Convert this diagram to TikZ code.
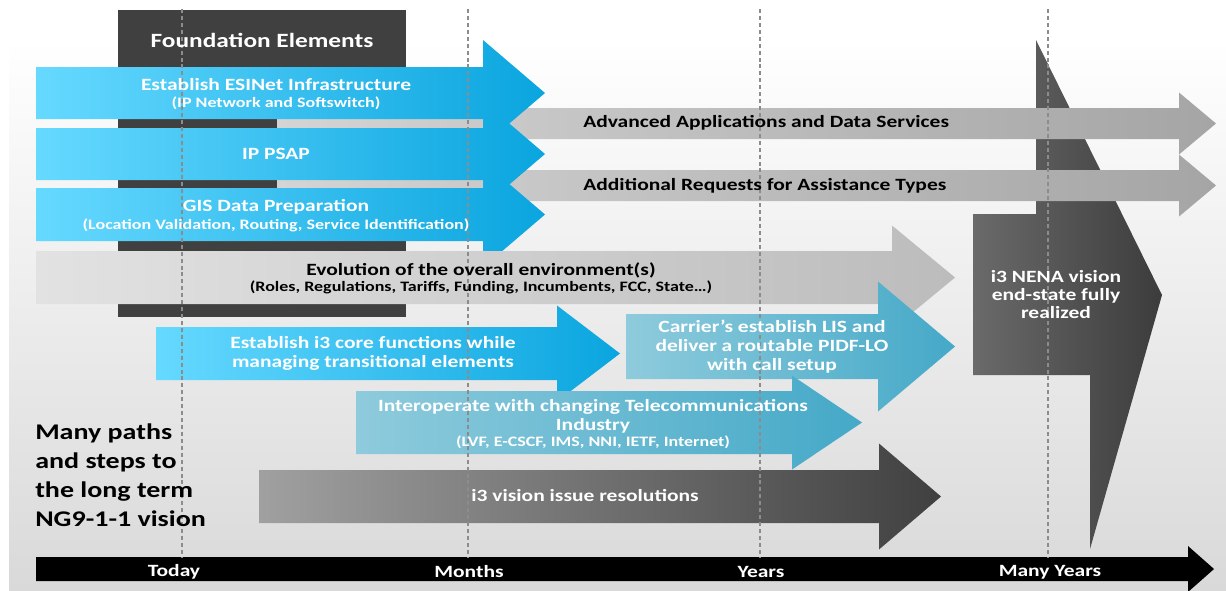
\documentclass[tikz,border=0pt]{standalone}
\usepackage{fontspec}
\setmainfont{Carlito}[FakeStretch=1.25]

\definecolor{bluel}{HTML}{66D9FF}
\definecolor{bluer}{HTML}{0AA5DF}
\definecolor{teall}{HTML}{8ECBDC}
\definecolor{tealr}{HTML}{45A9C8}
\definecolor{grayl}{HTML}{D4D4D4}
\definecolor{grayr}{HTML}{A5A5A5}
\definecolor{evol}{HTML}{E2E2E2}
\definecolor{evor}{HTML}{BCBCBC}
\definecolor{darkl}{HTML}{A0A0A0}
\definecolor{darkr}{HTML}{404040}
\definecolor{bigl}{HTML}{6A6A6A}
\definecolor{bigr}{HTML}{3C3C3C}
\definecolor{boxgray}{HTML}{404040}
\definecolor{bggray}{HTML}{D9D9D9}
\definecolor{tickgray}{HTML}{8C8C8C}

% block arrow: style, x left, y top, x head, y bottom, x tip, half head
\newcommand{\blockarrow}[7]{%
  \path[#1] (#2,#3) -- (#4,#3) -- (#4,{(#3+#5)/2-#7}) -- (#6,{(#3+#5)/2})
    -- (#4,{(#3+#5)/2+#7}) -- (#4,#5) -- (#2,#5) -- cycle;}

\begin{document}
\begin{tikzpicture}[x=0.75pt, y=-0.75pt,
    bluefill/.style = {left color=bluel, right color=bluer},
    tealfill/.style = {left color=teall, right color=tealr},
    grayfill/.style = {left color=grayl, right color=grayr},
    evofill/.style = {left color=evol, right color=evor},
    darkfill/.style = {left color=darkl, right color=darkr},
    whitetxt/.style = {text=white, align=center, inner sep=0pt, font=\bfseries\fontsize{12.9}{14.25}\selectfont},
    blacktxt/.style = {text=black, align=center, inner sep=0pt, font=\bfseries\fontsize{12.9}{14.25}\selectfont},
    subtxt/.style = {font=\bfseries\fontsize{10.8}{12}\selectfont},
    tick/.style = {draw=tickgray, line width=0.9pt, dash pattern=on 3pt off 2.2pt}]
\useasboundingbox (0,0) rectangle (1226,590);

% background and foundation box
\path[top color=white, bottom color=bggray] (9,38) rectangle (1226,590);
\fill[boxgray] (118,10) rectangle (406,317);

% end state
\path[left color=bigl, right color=bigr] (1036,40) -- (1162,295) -- (1090,549) -- (1090,375)
  -- (973,375) -- (973,214) -- (1036,214) -- cycle;

% arrows
\blockarrow{grayfill}{277}{108}{1179}{139}{1216}{31}
\blockarrow{grayfill}{277}{170}{1179}{201}{1216}{31}
\blockarrow{bluefill}{36}{67}{483}{119}{545}{53}
\blockarrow{bluefill}{36}{128}{483}{180}{545}{53}
\blockarrow{bluefill}{36}{188}{483}{241}{545}{53}
\blockarrow{evofill}{36}{251}{892}{304}{955}{52}
\blockarrow{bluefill}{156}{327}{557}{380}{620}{48}
\blockarrow{tealfill}{626}{314}{878}{379}{955}{65}
\blockarrow{tealfill}{356}{391}{792}{454}{862}{47}
\blockarrow{darkfill}{259}{470}{879}{523}{941}{53}
\blockarrow{fill=black}{36}{557}{1188}{581}{1214}{23}

\foreach \x in {182,468,760,1048}
  \draw[tick] (\x,9) -- (\x,557);

% labels
\node[whitetxt, font=\bfseries\fontsize{15.2}{17}\selectfont] (found) at (262,40) {Foundation Elements};
\node[whitetxt] (esinet) at (276,85) {Establish ESINet Infrastructure};
\node[whitetxt, subtxt] (esinetsub) at (276,103) {(IP Network and Softswitch)};
\node[whitetxt] (psap) at (276,154) {IP PSAP};
\node[whitetxt] (gis) at (276,207) {GIS Data Preparation};
\node[whitetxt, subtxt] (gissub) at (276,225) {(Location Validation, Routing, Service Identification)};
\node[blacktxt, anchor=west] (adv) at (583,123) {Advanced Applications and Data Services};
\node[blacktxt, anchor=west] (add) at (583,186) {Additional Requests for Assistance Types};
\node[blacktxt] (evo) at (481,270) {Evolution of the overall environment(s)};
\node[blacktxt, subtxt] (evosub) at (481,287) {(Roles, Regulations, Tariffs, Funding, Incumbents, FCC, State…)};
\node[whitetxt] (core) at (373,353) {Establish i3 core functions while\\managing transitional elements};
\node[whitetxt] (lis) at (772,347) {Carrier’s establish LIS and\\deliver a routable PIDF-LO\\with call setup};
\node[whitetxt] (interop) at (593,416) {Interoperate with changing Telecommunications\\Industry};
\node[whitetxt, subtxt] (interopsub) at (593,442) {(LVF, E-CSCF, IMS, NNI, IETF, Internet)};
\node[whitetxt] (issues) at (585,496) {i3 vision issue resolutions};
\node[whitetxt, font=\bfseries\fontsize{12.9}{13.5}\selectfont] (nena) at (1056,295) {i3 NENA vision\\end-state fully\\realized};
\node[blacktxt, anchor=west, align=left, font=\bfseries\fontsize{16.8}{21.75}\selectfont] (paths) at (35,475) {Many paths\\and steps to\\the long term\\NG9-1-1 vision};

\node[whitetxt] (today) at (174,572) {Today};
\node[whitetxt] (months) at (469,572) {Months};
\node[whitetxt] (years) at (761,572) {Years};
\node[whitetxt] (many) at (1050,572) {Many Years};
\end{tikzpicture}
\end{document}
